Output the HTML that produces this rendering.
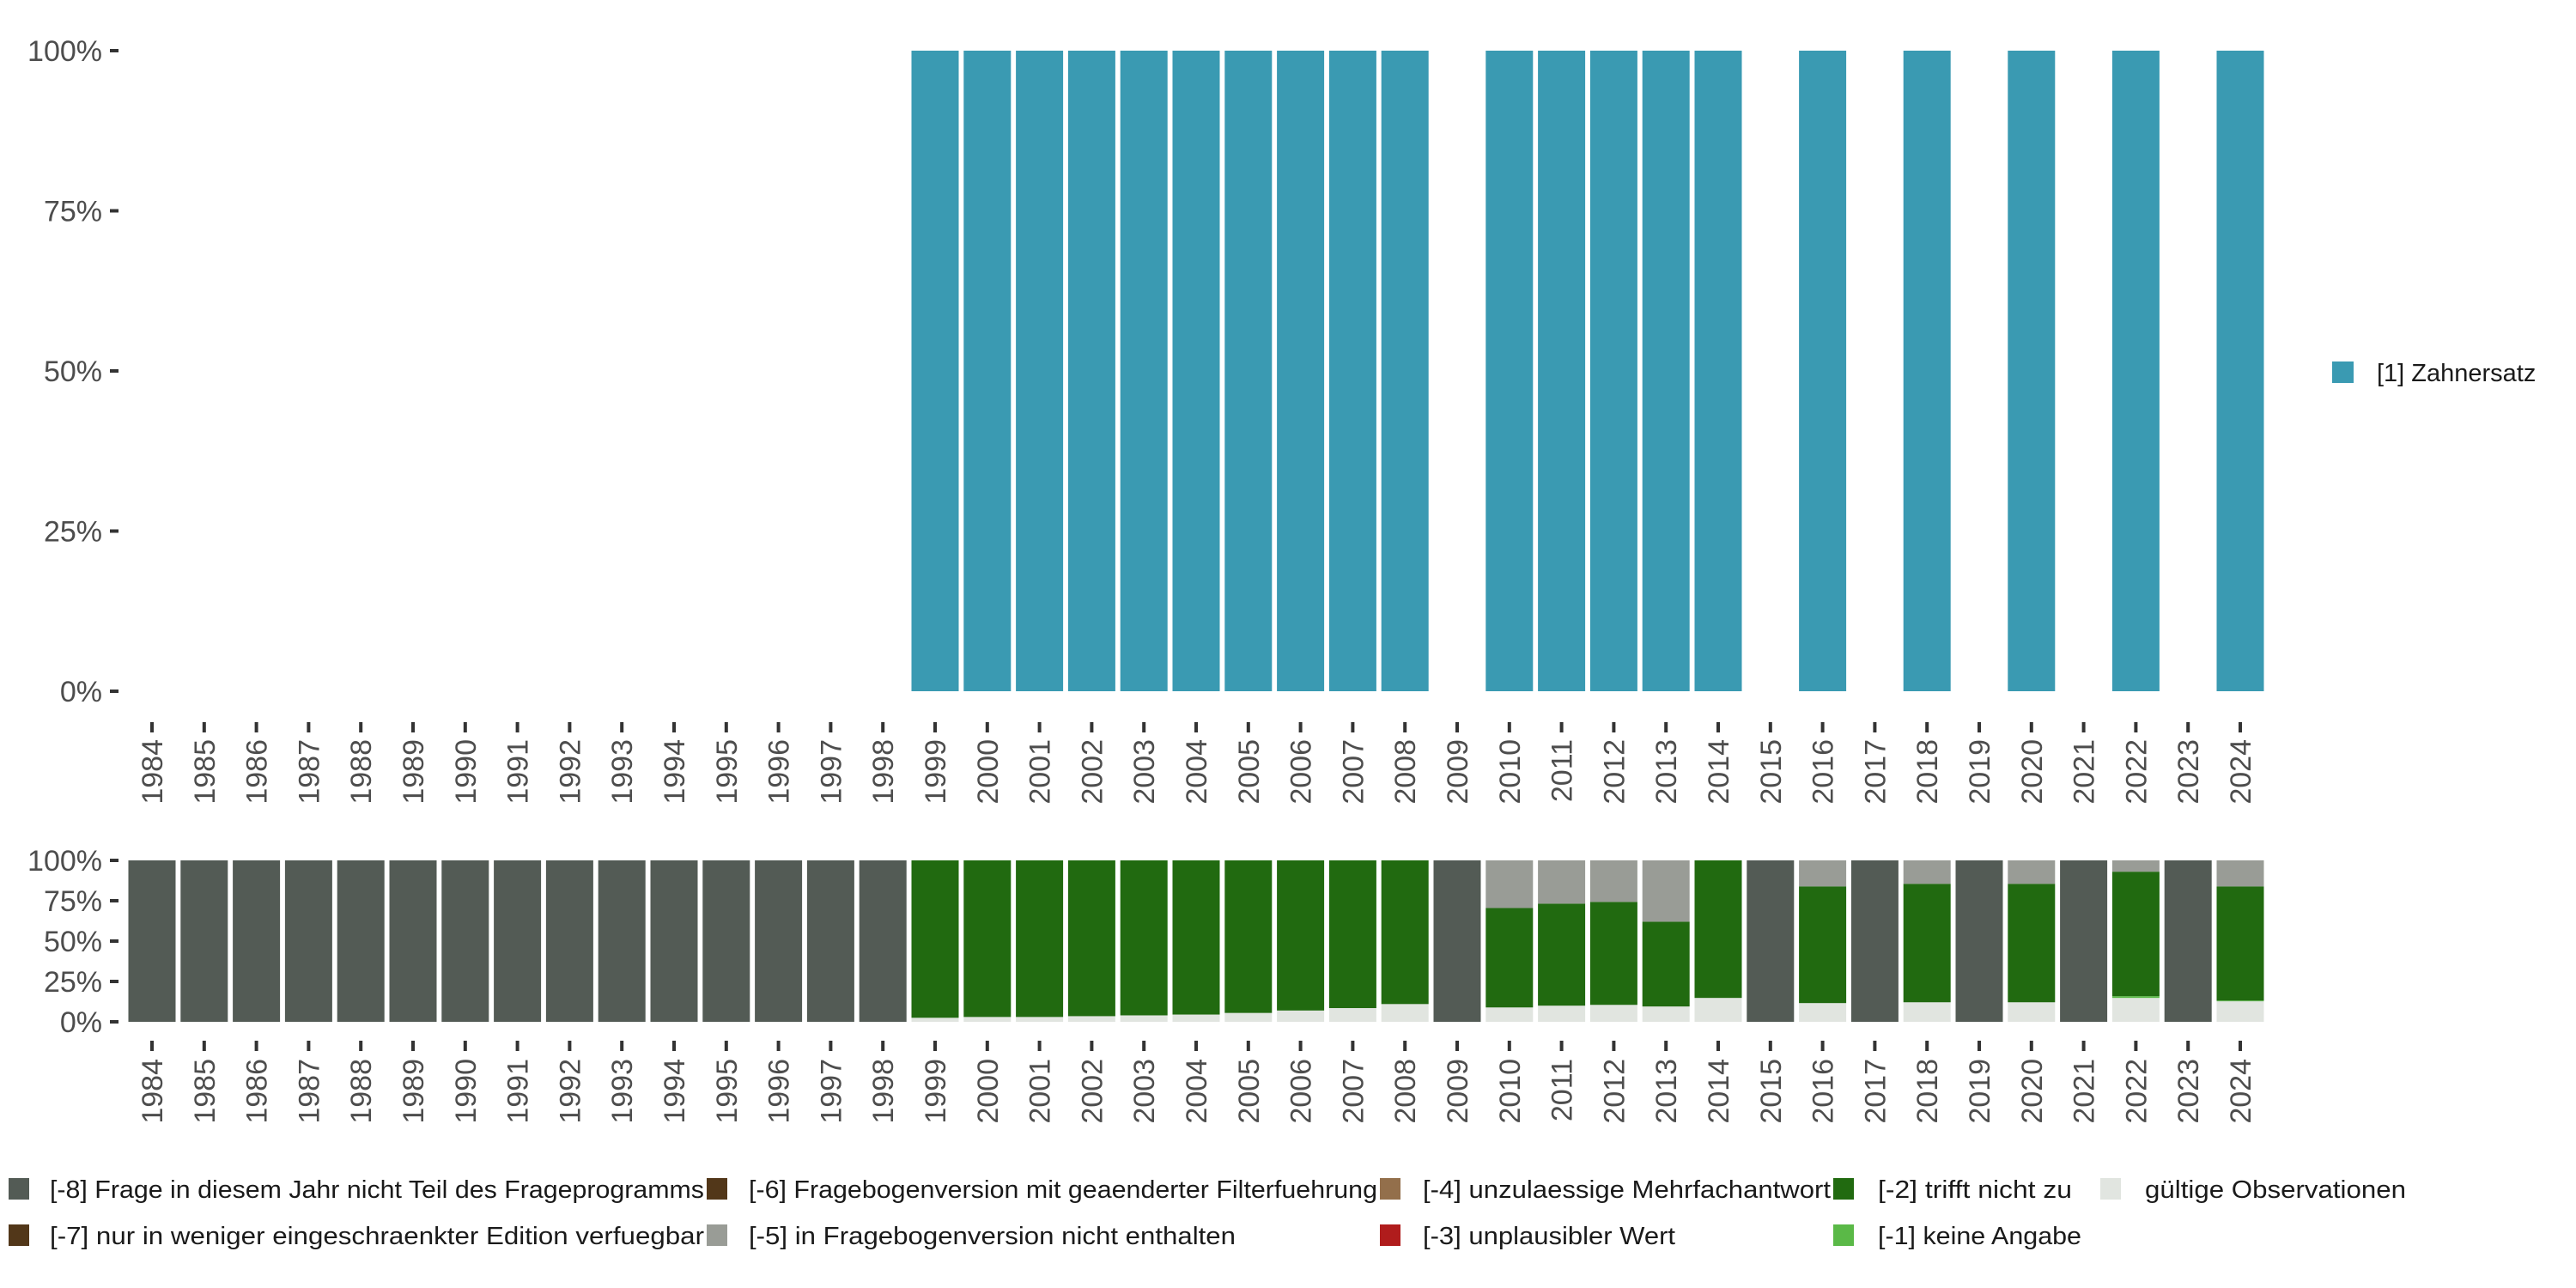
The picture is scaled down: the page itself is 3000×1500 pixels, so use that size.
<!DOCTYPE html>
<html><head><meta charset="utf-8">
<style>
html,body{margin:0;padding:0;background:#fff;}
svg{display:block;font-family:"Liberation Sans",sans-serif;}
</style></head>
<body>
<svg id="chart" width="3000" height="1500" viewBox="0 0 3000 1500" xmlns="http://www.w3.org/2000/svg">
<g id="top-panel"></g>
<g id="bottom-panel"></g>
<g id="legend-right"></g>
<g id="legend-bottom"></g>
</svg>
<script>
const years = [1984,1985,1986,1987,1988,1989,1990,1991,1992,1993,1994,1995,1996,1997,1998,1999,2000,2001,2002,2003,2004,2005,2006,2007,2008,2009,2010,2011,2012,2013,2014,2015,2016,2017,2018,2019,2020,2021,2022,2023,2024];
const zahnersatz = [null,null,null,null,null,null,null,null,null,null,null,null,null,null,null,100,100,100,100,100,100,100,100,100,100,null,100,100,100,100,100,null,100,null,100,null,100,null,100,null,100];
const validObs = [0,0,0,0,0,0,0,0,0,0,0,0,0,0,0,2.5,3,3,3.5,4,4.5,5.5,7,8.5,11,0,8.9,10,10.5,9.5,14.8,0,11.6,0,12.1,0,12.1,0,14.8,0,12.7];
const keineAngabe = [0,0,0,0,0,0,0,0,0,0,0,0,0,0,0,0,0,0,0,0,0,0,0,0,0,0,0,0,0,0,0,0,0,0,0,0,0,0,1.1,0,0.5];
const trifftNicht = [0,0,0,0,0,0,0,0,0,0,0,0,0,0,0,97.5,97,97,96.5,96,95.5,94.5,93,91.5,89,0,61.6,63.2,63.8,52.5,85.2,0,72.3,0,73.4,0,73.4,0,77.1,0,70.7];
const nichtEnthalten = [0,0,0,0,0,0,0,0,0,0,0,0,0,0,0,0,0,0,0,0,0,0,0,0,0,0,29.5,26.8,25.7,38,0,0,16.1,0,14.5,0,14.5,0,7,0,16.1];
const nichtTeil = [100,100,100,100,100,100,100,100,100,100,100,100,100,100,100,0,0,0,0,0,0,0,0,0,0,100,0,0,0,0,0,100,0,100,0,100,0,100,0,100,0];
const yTicks = [0,25,50,75,100];
const yTickLabels = ["0%","25%","50%","75%","100%"];

const NS="http://www.w3.org/2000/svg";
function mk(tag,attrs,parent){const e=document.createElementNS(NS,tag);for(const k in attrs)e.setAttribute(k,attrs[k]);parent.appendChild(e);return e;}

const x0=177, step=60.8, bw=55;
function xScale(i){return x0+i*step;}
function yTop(v){return 805-(v/100)*746;}
function yBot(v){return 1190-(v/100)*188;}

const axisColor="#4d4d4d";
function drawAxes(g,yFn,tickY0,labelY0){
  yTicks.forEach((t,i)=>{
    const y=yFn(t);
    const tk=mk('line',{x1:128,x2:138,y1:y,y2:y,stroke:'#333',"stroke-width":4},g);
    
    
    const lb=mk('text',{x:119,y:y+12,"text-anchor":"end","font-size":34,fill:axisColor},g);
    lb.textContent=yTickLabels[i];
    
    
  });
  years.forEach((yr,i)=>{
    const x=xScale(i);
    const tk=mk('line',{x1:x,x2:x,y1:tickY0,y2:tickY0+12,stroke:'#333',"stroke-width":4},g);
    
    
    const lb=mk('text',{x:0,y:0,"text-anchor":"end","font-size":34,fill:axisColor,transform:`translate(${x+12},${labelY0}) rotate(-90)`},g);
    lb.textContent=yr;
    
    
  });
}

const topG=document.getElementById('top-panel');
zahnersatz.forEach((v,i)=>{
  if(v===null)return;
  const r=mk('rect',{x:xScale(i)-bw/2,y:yTop(v),width:bw,height:yTop(0)-yTop(v),fill:'#3a9ab2'},topG);
  
  
});
drawAxes(topG,yTop,841,861);

const bottomG=document.getElementById('bottom-panel');
const stackSeries=[
  {name:'valid',vals:validObs,color:'#e1e5e0'},
  {name:'keine-angabe',vals:keineAngabe,color:'#5ab947'},
  {name:'trifft-nicht-zu',vals:trifftNicht,color:'#216a10'},
  {name:'nicht-enthalten',vals:nichtEnthalten,color:'#999c96'},
  {name:'nicht-teil',vals:nichtTeil,color:'#535b55'}
];
years.forEach((yr,i)=>{
  let acc=0;
  stackSeries.forEach(s=>{
    const v=s.vals[i];
    if(v<=0)return;
    const r=mk('rect',{x:xScale(i)-bw/2,y:yBot(acc+v),width:bw,height:yBot(acc)-yBot(acc+v),fill:s.color},bottomG);
    
    
    acc+=v;
  });
});
drawAxes(bottomG,yBot,1212,1233);

const lr=document.getElementById('legend-right');
const lrk=mk('rect',{x:2716,y:421,width:25,height:25,fill:'#3a9ab2'},lr);


const lrt=mk('text',{x:2768,y:444,"font-size":29,fill:'#1a1a1a'},lr);
lrt.textContent='[1] Zahnersatz';



const lbG=document.getElementById('legend-bottom');
const legendItems=[
  {sx:10,tx:58,y:1372,c:'#535b55',t:'[-8] Frage in diesem Jahr nicht Teil des Frageprogramms',w:762},
  {sx:10,tx:58,y:1426,c:'#523719',t:'[-7] nur in weniger eingeschraenkter Edition verfuegbar',w:762},
  {sx:823,tx:872,y:1372,c:'#523719',t:'[-6] Fragebogenversion mit geaenderter Filterfuehrung',w:732},
  {sx:823,tx:872,y:1426,c:'#999c96',t:'[-5] in Fragebogenversion nicht enthalten',w:567},
  {sx:1607,tx:1657,y:1372,c:'#936f4b',t:'[-4] unzulaessige Mehrfachantwort',w:475},
  {sx:1607,tx:1657,y:1426,c:'#b01c1c',t:'[-3] unplausibler Wert',w:294},
  {sx:2135,tx:2187,y:1372,c:'#216a10',t:'[-2] trifft nicht zu',w:226},
  {sx:2135,tx:2187,y:1426,c:'#5ab947',t:'[-1] keine Angabe',w:237},
  {sx:2446,tx:2498,y:1372,c:'#e1e5e0',t:'gültige Observationen',w:304}
];
legendItems.forEach((it,i)=>{
  const k=mk('rect',{x:it.sx,y:it.y,width:24,height:25,fill:it.c},lbG);
  
  
  const t=mk('text',{x:it.tx,y:it.y+23,"font-size":29,fill:'#1a1a1a',textLength:it.w,lengthAdjust:'spacingAndGlyphs'},lbG);
  t.textContent=it.t;
  
  
});
</script>
</body></html>
